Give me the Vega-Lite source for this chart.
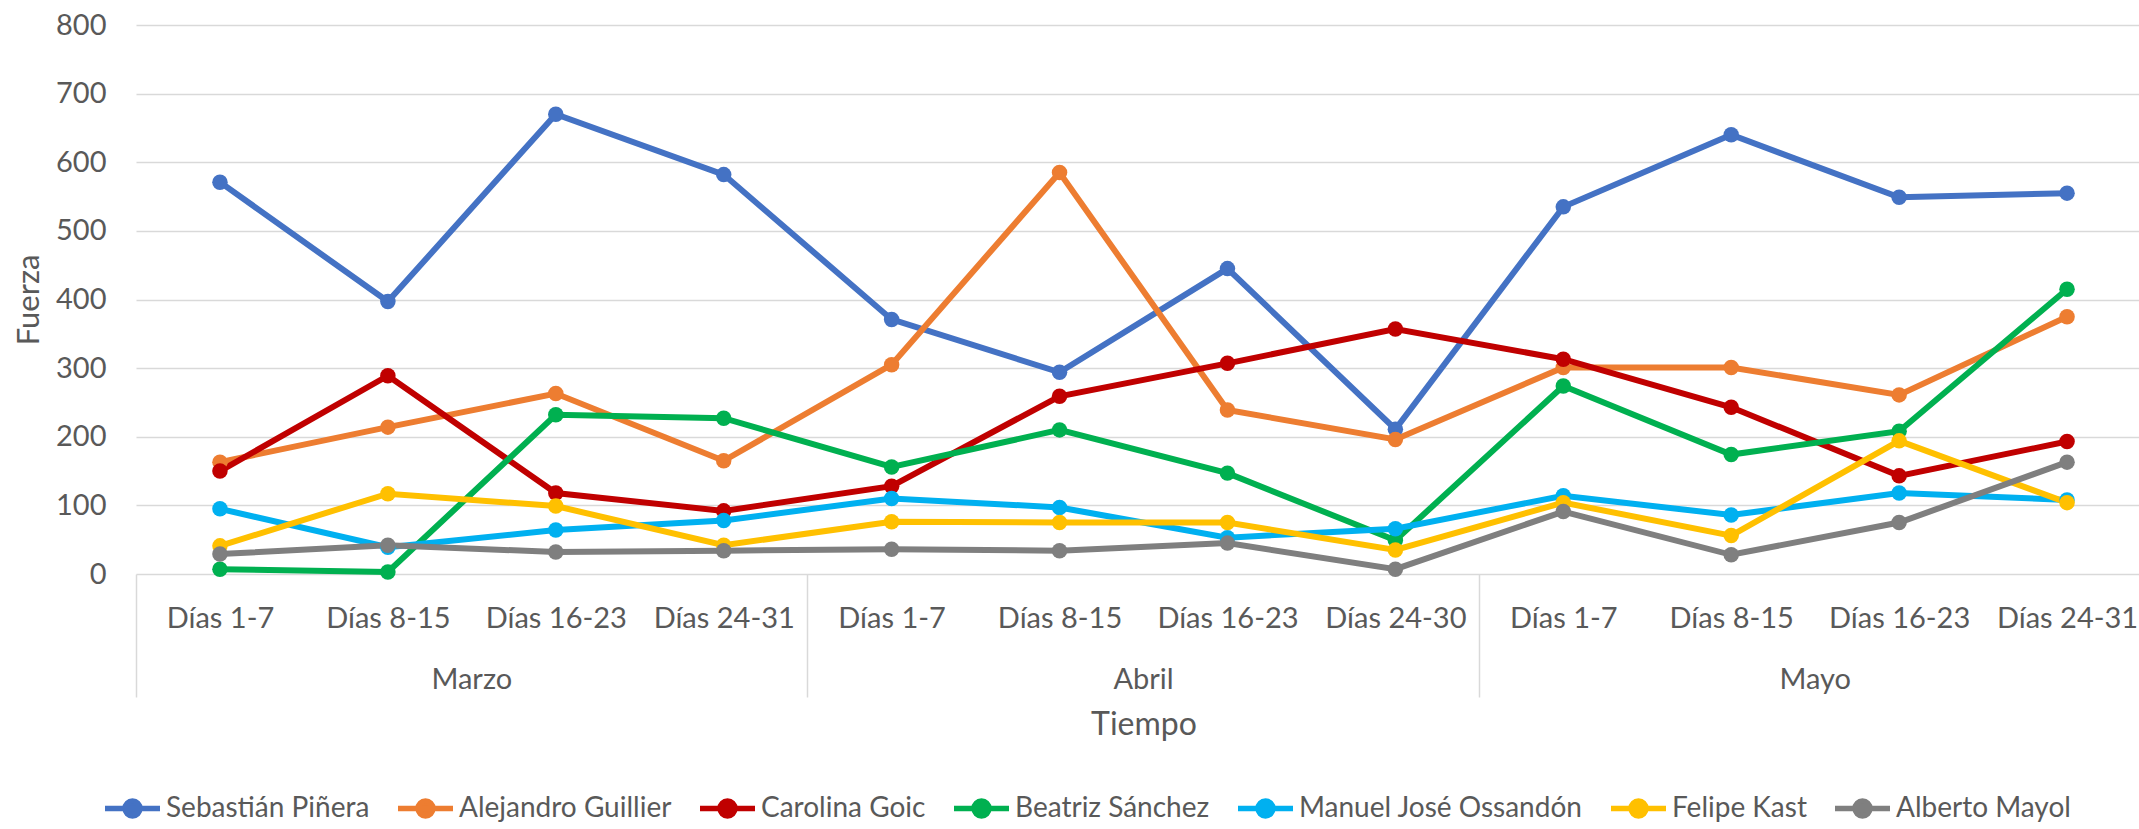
{
  "$schema": "https://vega.github.io/schema/vega-lite/v6.json",
  "width": 2015,
  "height": 549,
  "autosize": {"type": "none"},
  "padding": {"left": 136, "top": 25, "right": -12, "bottom": 255},
  "background": "white",
  "config": {"view": {"stroke": null}, "font": "Lato"},
  "data": {"values": [
    {"candidato": "Sebastián Piñera", "mes": "Marzo", "periodo": "Marzo|Días 1-7", "fuerza": 571},
    {"candidato": "Sebastián Piñera", "mes": "Marzo", "periodo": "Marzo|Días 8-15", "fuerza": 397},
    {"candidato": "Sebastián Piñera", "mes": "Marzo", "periodo": "Marzo|Días 16-23", "fuerza": 670},
    {"candidato": "Sebastián Piñera", "mes": "Marzo", "periodo": "Marzo|Días 24-31", "fuerza": 582},
    {"candidato": "Sebastián Piñera", "mes": "Abril", "periodo": "Abril|Días 1-7", "fuerza": 371},
    {"candidato": "Sebastián Piñera", "mes": "Abril", "periodo": "Abril|Días 8-15", "fuerza": 294},
    {"candidato": "Sebastián Piñera", "mes": "Abril", "periodo": "Abril|Días 16-23", "fuerza": 445},
    {"candidato": "Sebastián Piñera", "mes": "Abril", "periodo": "Abril|Días 24-30", "fuerza": 211},
    {"candidato": "Sebastián Piñera", "mes": "Mayo", "periodo": "Mayo|Días 1-7", "fuerza": 535},
    {"candidato": "Sebastián Piñera", "mes": "Mayo", "periodo": "Mayo|Días 8-15", "fuerza": 640},
    {"candidato": "Sebastián Piñera", "mes": "Mayo", "periodo": "Mayo|Días 16-23", "fuerza": 549},
    {"candidato": "Sebastián Piñera", "mes": "Mayo", "periodo": "Mayo|Días 24-31", "fuerza": 555},
    {"candidato": "Alejandro Guillier", "mes": "Marzo", "periodo": "Marzo|Días 1-7", "fuerza": 163},
    {"candidato": "Alejandro Guillier", "mes": "Marzo", "periodo": "Marzo|Días 8-15", "fuerza": 214},
    {"candidato": "Alejandro Guillier", "mes": "Marzo", "periodo": "Marzo|Días 16-23", "fuerza": 263},
    {"candidato": "Alejandro Guillier", "mes": "Marzo", "periodo": "Marzo|Días 24-31", "fuerza": 165},
    {"candidato": "Alejandro Guillier", "mes": "Abril", "periodo": "Abril|Días 1-7", "fuerza": 305},
    {"candidato": "Alejandro Guillier", "mes": "Abril", "periodo": "Abril|Días 8-15", "fuerza": 585},
    {"candidato": "Alejandro Guillier", "mes": "Abril", "periodo": "Abril|Días 16-23", "fuerza": 239},
    {"candidato": "Alejandro Guillier", "mes": "Abril", "periodo": "Abril|Días 24-30", "fuerza": 196},
    {"candidato": "Alejandro Guillier", "mes": "Mayo", "periodo": "Mayo|Días 1-7", "fuerza": 301},
    {"candidato": "Alejandro Guillier", "mes": "Mayo", "periodo": "Mayo|Días 8-15", "fuerza": 301},
    {"candidato": "Alejandro Guillier", "mes": "Mayo", "periodo": "Mayo|Días 16-23", "fuerza": 261},
    {"candidato": "Alejandro Guillier", "mes": "Mayo", "periodo": "Mayo|Días 24-31", "fuerza": 375},
    {"candidato": "Carolina Goic", "mes": "Marzo", "periodo": "Marzo|Días 1-7", "fuerza": 150},
    {"candidato": "Carolina Goic", "mes": "Marzo", "periodo": "Marzo|Días 8-15", "fuerza": 289},
    {"candidato": "Carolina Goic", "mes": "Marzo", "periodo": "Marzo|Días 16-23", "fuerza": 118},
    {"candidato": "Carolina Goic", "mes": "Marzo", "periodo": "Marzo|Días 24-31", "fuerza": 92},
    {"candidato": "Carolina Goic", "mes": "Abril", "periodo": "Abril|Días 1-7", "fuerza": 128},
    {"candidato": "Carolina Goic", "mes": "Abril", "periodo": "Abril|Días 8-15", "fuerza": 259},
    {"candidato": "Carolina Goic", "mes": "Abril", "periodo": "Abril|Días 16-23", "fuerza": 307},
    {"candidato": "Carolina Goic", "mes": "Abril", "periodo": "Abril|Días 24-30", "fuerza": 357},
    {"candidato": "Carolina Goic", "mes": "Mayo", "periodo": "Mayo|Días 1-7", "fuerza": 313},
    {"candidato": "Carolina Goic", "mes": "Mayo", "periodo": "Mayo|Días 8-15", "fuerza": 243},
    {"candidato": "Carolina Goic", "mes": "Mayo", "periodo": "Mayo|Días 16-23", "fuerza": 143},
    {"candidato": "Carolina Goic", "mes": "Mayo", "periodo": "Mayo|Días 24-31", "fuerza": 193},
    {"candidato": "Beatriz Sánchez", "mes": "Marzo", "periodo": "Marzo|Días 1-7", "fuerza": 7},
    {"candidato": "Beatriz Sánchez", "mes": "Marzo", "periodo": "Marzo|Días 8-15", "fuerza": 3},
    {"candidato": "Beatriz Sánchez", "mes": "Marzo", "periodo": "Marzo|Días 16-23", "fuerza": 232},
    {"candidato": "Beatriz Sánchez", "mes": "Marzo", "periodo": "Marzo|Días 24-31", "fuerza": 227},
    {"candidato": "Beatriz Sánchez", "mes": "Abril", "periodo": "Abril|Días 1-7", "fuerza": 156},
    {"candidato": "Beatriz Sánchez", "mes": "Abril", "periodo": "Abril|Días 8-15", "fuerza": 210},
    {"candidato": "Beatriz Sánchez", "mes": "Abril", "periodo": "Abril|Días 16-23", "fuerza": 147},
    {"candidato": "Beatriz Sánchez", "mes": "Abril", "periodo": "Abril|Días 24-30", "fuerza": 49},
    {"candidato": "Beatriz Sánchez", "mes": "Mayo", "periodo": "Mayo|Días 1-7", "fuerza": 274},
    {"candidato": "Beatriz Sánchez", "mes": "Mayo", "periodo": "Mayo|Días 8-15", "fuerza": 174},
    {"candidato": "Beatriz Sánchez", "mes": "Mayo", "periodo": "Mayo|Días 16-23", "fuerza": 208},
    {"candidato": "Beatriz Sánchez", "mes": "Mayo", "periodo": "Mayo|Días 24-31", "fuerza": 415},
    {"candidato": "Manuel José Ossandón", "mes": "Marzo", "periodo": "Marzo|Días 1-7", "fuerza": 95},
    {"candidato": "Manuel José Ossandón", "mes": "Marzo", "periodo": "Marzo|Días 8-15", "fuerza": 39},
    {"candidato": "Manuel José Ossandón", "mes": "Marzo", "periodo": "Marzo|Días 16-23", "fuerza": 64},
    {"candidato": "Manuel José Ossandón", "mes": "Marzo", "periodo": "Marzo|Días 24-31", "fuerza": 78},
    {"candidato": "Manuel José Ossandón", "mes": "Abril", "periodo": "Abril|Días 1-7", "fuerza": 110},
    {"candidato": "Manuel José Ossandón", "mes": "Abril", "periodo": "Abril|Días 8-15", "fuerza": 97},
    {"candidato": "Manuel José Ossandón", "mes": "Abril", "periodo": "Abril|Días 16-23", "fuerza": 53},
    {"candidato": "Manuel José Ossandón", "mes": "Abril", "periodo": "Abril|Días 24-30", "fuerza": 66},
    {"candidato": "Manuel José Ossandón", "mes": "Mayo", "periodo": "Mayo|Días 1-7", "fuerza": 114},
    {"candidato": "Manuel José Ossandón", "mes": "Mayo", "periodo": "Mayo|Días 8-15", "fuerza": 86},
    {"candidato": "Manuel José Ossandón", "mes": "Mayo", "periodo": "Mayo|Días 16-23", "fuerza": 118},
    {"candidato": "Manuel José Ossandón", "mes": "Mayo", "periodo": "Mayo|Días 24-31", "fuerza": 108},
    {"candidato": "Felipe Kast", "mes": "Marzo", "periodo": "Marzo|Días 1-7", "fuerza": 41},
    {"candidato": "Felipe Kast", "mes": "Marzo", "periodo": "Marzo|Días 8-15", "fuerza": 117},
    {"candidato": "Felipe Kast", "mes": "Marzo", "periodo": "Marzo|Días 16-23", "fuerza": 99},
    {"candidato": "Felipe Kast", "mes": "Marzo", "periodo": "Marzo|Días 24-31", "fuerza": 42},
    {"candidato": "Felipe Kast", "mes": "Abril", "periodo": "Abril|Días 1-7", "fuerza": 76},
    {"candidato": "Felipe Kast", "mes": "Abril", "periodo": "Abril|Días 8-15", "fuerza": 75},
    {"candidato": "Felipe Kast", "mes": "Abril", "periodo": "Abril|Días 16-23", "fuerza": 75},
    {"candidato": "Felipe Kast", "mes": "Abril", "periodo": "Abril|Días 24-30", "fuerza": 35},
    {"candidato": "Felipe Kast", "mes": "Mayo", "periodo": "Mayo|Días 1-7", "fuerza": 104},
    {"candidato": "Felipe Kast", "mes": "Mayo", "periodo": "Mayo|Días 8-15", "fuerza": 56},
    {"candidato": "Felipe Kast", "mes": "Mayo", "periodo": "Mayo|Días 16-23", "fuerza": 194},
    {"candidato": "Felipe Kast", "mes": "Mayo", "periodo": "Mayo|Días 24-31", "fuerza": 104},
    {"candidato": "Alberto Mayol", "mes": "Marzo", "periodo": "Marzo|Días 1-7", "fuerza": 29},
    {"candidato": "Alberto Mayol", "mes": "Marzo", "periodo": "Marzo|Días 8-15", "fuerza": 42},
    {"candidato": "Alberto Mayol", "mes": "Marzo", "periodo": "Marzo|Días 16-23", "fuerza": 32},
    {"candidato": "Alberto Mayol", "mes": "Marzo", "periodo": "Marzo|Días 24-31", "fuerza": 34},
    {"candidato": "Alberto Mayol", "mes": "Abril", "periodo": "Abril|Días 1-7", "fuerza": 36},
    {"candidato": "Alberto Mayol", "mes": "Abril", "periodo": "Abril|Días 8-15", "fuerza": 34},
    {"candidato": "Alberto Mayol", "mes": "Abril", "periodo": "Abril|Días 16-23", "fuerza": 45},
    {"candidato": "Alberto Mayol", "mes": "Abril", "periodo": "Abril|Días 24-30", "fuerza": 7},
    {"candidato": "Alberto Mayol", "mes": "Mayo", "periodo": "Mayo|Días 1-7", "fuerza": 91},
    {"candidato": "Alberto Mayol", "mes": "Mayo", "periodo": "Mayo|Días 8-15", "fuerza": 28},
    {"candidato": "Alberto Mayol", "mes": "Mayo", "periodo": "Mayo|Días 16-23", "fuerza": 75},
    {"candidato": "Alberto Mayol", "mes": "Mayo", "periodo": "Mayo|Días 24-31", "fuerza": 163}
  ]},
  "layer": [
    {
      "mark": {"type": "line", "strokeWidth": 6, "point": {"filled": true, "size": 240, "opacity": 1}},
      "encoding": {
        "x": {
          "field": "periodo", "type": "ordinal", "sort": null,
          "scale": {"type": "point", "padding": 0.5},
          "axis": {
            "orient": "bottom", "title": null, "domain": false, "ticks": false, "grid": false,
            "labelExpr": "split(datum.label, '|')[1]",
            "labelAngle": 0, "labelPadding": 30, "labelFontSize": 29, "labelColor": "#595959",
            "labelBaseline": "top", "labelOverlap": false
          }
        },
        "y": {
          "field": "fuerza", "type": "quantitative",
          "scale": {"domain": [0, 800], "nice": false},
          "axis": {
            "title": "Fuerza", "values": [0, 100, 200, 300, 400, 500, 600, 700, 800],
            "domain": false, "ticks": false, "grid": true, "gridColor": "#D9D9D9", "gridWidth": 1.5,
            "labelPadding": 30, "labelFontSize": 29, "labelColor": "#595959",
            "titleFontSize": 31, "titleColor": "#595959", "titleFontWeight": "normal", "titlePadding": 10
          }
        },
        "color": {
          "field": "candidato", "type": "nominal",
          "scale": {
            "domain": ["Sebastián Piñera", "Alejandro Guillier", "Carolina Goic", "Beatriz Sánchez", "Manuel José Ossandón", "Felipe Kast", "Alberto Mayol"],
            "range": ["#4472C4", "#ED7D31", "#C00000", "#00B050", "#00B0F0", "#FFC000", "#7F7F7F"]
          },
          "legend": {
            "title": null, "orient": "none", "legendX": -34, "legendY": 753, "direction": "horizontal",
            "symbolType": "M-1,0L1,0M-0.27,0A0.27,0.27,0,1,1,0.27,0A0.27,0.27,0,1,1,-0.27,0Z",
            "symbolSize": 3025, "symbolStrokeWidth": 5.5,
            "labelFontSize": 28, "labelColor": "#595959", "labelOffset": 3, "labelLimit": 0,
            "columnPadding": 17, "padding": 0,
            "encode": {"symbols": {"update": {"fill": {"scale": "color", "field": "value"}, "stroke": {"scale": "color", "field": "value"}, "opacity": {"value": 1}}}}
          }
        }
      }
    },
    {
      "mark": {"type": "point", "opacity": 0},
      "encoding": {
        "x": {
          "field": "mes", "type": "ordinal", "sort": null,
          "scale": {"type": "band", "paddingInner": 0, "paddingOuter": 0},
          "axis": {
            "orient": "bottom", "title": "Tiempo", "domain": false, "grid": false,
            "ticks": true, "bandPosition": 0, "tickSize": 123, "tickColor": "#D9D9D9", "tickWidth": 1.5,
            "labelAngle": 0, "labelPadding": -32, "labelFontSize": 29, "labelColor": "#595959",
            "labelBaseline": "top",
            "titleFontSize": 32, "titleColor": "#595959", "titleFontWeight": "normal", "titlePadding": 12
          }
        }
      }
    }
  ],
  "resolve": {"scale": {"x": "independent"}, "axis": {"x": "independent"}}
}
